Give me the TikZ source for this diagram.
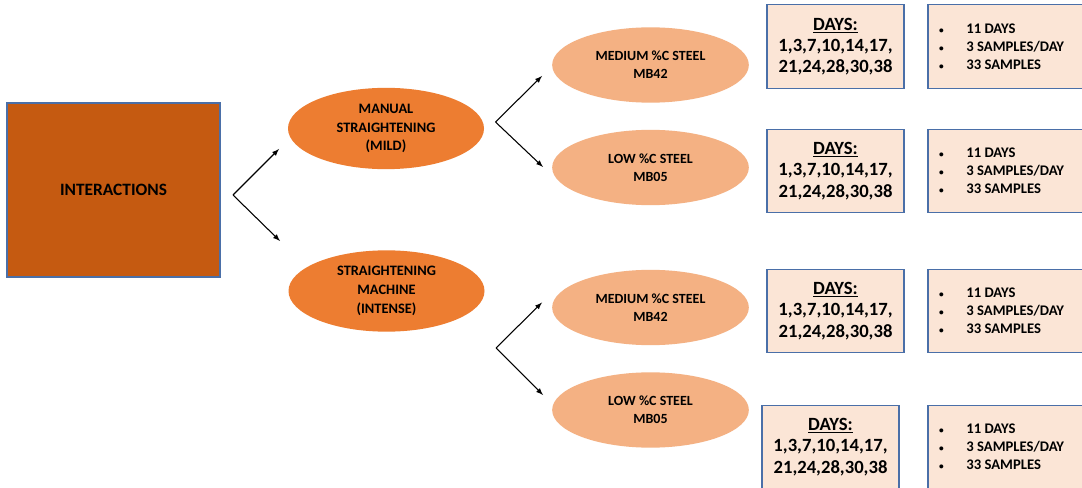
\documentclass[tikz,border=0pt]{standalone}
\usepackage{fontspec}
\setmainfont{Carlito}
\usepackage{tikz}
\usetikzlibrary{shapes.geometric}

\definecolor{rootfill}{HTML}{C55A11}
\definecolor{methodfill}{HTML}{ED7D31}
\definecolor{steelfill}{HTML}{F4B183}
\definecolor{infofill}{HTML}{FBE5D6}
\definecolor{infoline}{HTML}{4A6FA8}

\begin{document}
\begin{tikzpicture}[x=0.75pt, y=-0.75pt, thick, >=latex]
        \tikzstyle{root}=[rectangle,draw=infoline,line width=0.8pt,fill=rootfill,minimum width=159.75pt,minimum height=130.5pt,inner sep=0pt,font=\bfseries\fontsize{13}{15}\selectfont]
        \tikzstyle{method}=[ellipse,fill=methodfill,minimum width=147pt,minimum height=61pt,inner sep=0pt,align=center,font=\bfseries\fontsize{10.8}{14}\selectfont]
        \tikzstyle{steel}=[ellipse,fill=steelfill,minimum width=147.5pt,minimum height=56.5pt,inner sep=0pt,align=center,font=\bfseries\fontsize{10.5}{13.5}\selectfont]
        \tikzstyle{days}=[rectangle,draw=infoline,line width=0.8pt,fill=infofill,minimum width=102.75pt,minimum height=62.5pt,inner sep=0pt,align=center,font=\bfseries\fontsize{14}{15.9}\selectfont]
        \tikzstyle{info}=[rectangle,draw=infoline,line width=0.8pt,fill=infofill,minimum width=126pt,minimum height=62.5pt,inner sep=0pt]
        \tikzstyle{infotext}=[anchor=west,align=left,inner sep=0pt,font=\bfseries\fontsize{11}{13.5}\selectfont]

        \clip (0,0) rectangle (1082,488);
        \fill[white] (0,0) rectangle (1082,488);

        \node[root] (inter) at (113.5,190) {INTERACTIONS};

        \node[method] (manual) at (386,128.5) {MANUAL\\STRAIGHTENING\\(MILD)};
        \node[method] (machine) at (386.5,291) {STRAIGHTENING\\MACHINE\\(INTENSE)};

        \node[steel] (medA) at (650.5,65) {MEDIUM \%C STEEL\\MB42};
        \node[steel] (lowA) at (650.5,167.5) {LOW \%C STEEL\\MB05};
        \node[steel] (medB) at (650.5,307.5) {MEDIUM \%C STEEL\\MB42};
        \node[steel] (lowB) at (650.5,410) {LOW \%C STEEL\\MB05};

        \node[days] (daysA) at (835.5,46.5) {\underline{DAYS:}\\1,3,7,10,14,17,\\21,24,28,30,38};
        \node[days] (daysB) at (835.5,171) {\underline{DAYS:}\\1,3,7,10,14,17,\\21,24,28,30,38};
        \node[days] (daysC) at (835.5,311) {\underline{DAYS:}\\1,3,7,10,14,17,\\21,24,28,30,38};
        \node[days] (daysD) at (830.5,447) {\underline{DAYS:}\\1,3,7,10,14,17,\\21,24,28,30,38};

        \node[info] (infoA) at (1012,46.5) {};
        \node[info] (infoB) at (1012,171) {};
        \node[info] (infoC) at (1012,311) {};
        \node[info] (infoD) at (1012,447) {};

        \node[infotext] (listA) at (938.5,47) {\makebox[20.5pt][l]{\fontsize{7}{7}\selectfont\textbullet}11 DAYS\\\makebox[20.5pt][l]{\fontsize{7}{7}\selectfont\textbullet}3 SAMPLES/DAY\\\makebox[20.5pt][l]{\fontsize{7}{7}\selectfont\textbullet}33 SAMPLES};
        \node[infotext] (listB) at (938.5,171) {\makebox[20.5pt][l]{\fontsize{7}{7}\selectfont\textbullet}11 DAYS\\\makebox[20.5pt][l]{\fontsize{7}{7}\selectfont\textbullet}3 SAMPLES/DAY\\\makebox[20.5pt][l]{\fontsize{7}{7}\selectfont\textbullet}33 SAMPLES};
        \node[infotext] (listC) at (938.5,311) {\makebox[20.5pt][l]{\fontsize{7}{7}\selectfont\textbullet}11 DAYS\\\makebox[20.5pt][l]{\fontsize{7}{7}\selectfont\textbullet}3 SAMPLES/DAY\\\makebox[20.5pt][l]{\fontsize{7}{7}\selectfont\textbullet}33 SAMPLES};
        \node[infotext] (listD) at (938.5,447) {\makebox[20.5pt][l]{\fontsize{7}{7}\selectfont\textbullet}11 DAYS\\\makebox[20.5pt][l]{\fontsize{7}{7}\selectfont\textbullet}3 SAMPLES/DAY\\\makebox[20.5pt][l]{\fontsize{7}{7}\selectfont\textbullet}33 SAMPLES};

        % forks
        \coordinate (forkA) at (233,195);
        \coordinate (toManual) at (279,149);
        \coordinate (toMachine) at (280,241);
        \coordinate (forkB) at (495.5,122);
        \coordinate (toMedA) at (542,76);
        \coordinate (toLowA) at (543,167);
        \coordinate (forkC) at (496,348);
        \coordinate (toMedB) at (542,302.5);
        \coordinate (toLowB) at (543,395);

        \draw[->] (forkA) -- (toManual);
        \draw[->] (forkA) -- (toMachine);
        \draw[->] (forkB) -- (toMedA);
        \draw[->] (forkB) -- (toLowA);
        \draw[->] (forkC) -- (toMedB);
        \draw[->] (forkC) -- (toLowB);
    \end{tikzpicture}
\end{document}
